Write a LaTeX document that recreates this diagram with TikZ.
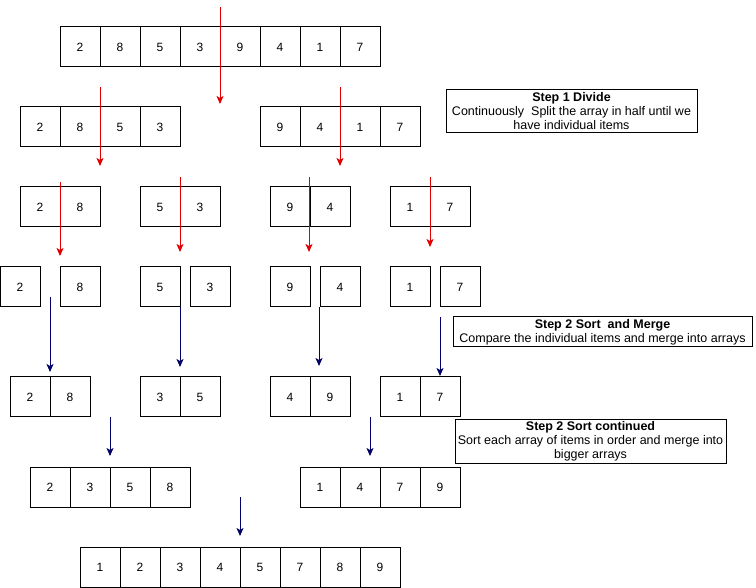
\documentclass[tikz,border=0pt]{standalone}
\usepackage{fontspec}
\setmainfont{Liberation Sans}
\usetikzlibrary{arrows.meta, positioning}

\definecolor{splitred}{RGB}{225,0,0}
\definecolor{mergenavy}{RGB}{0,0,102}

\begin{document}
\begin{tikzpicture}[
  x=1pt, y=-1pt,
  cell/.style={
    draw,
    line width=1pt,
    minimum size=40pt,
    inner sep=0pt,
    font=\fontsize{12}{14}\selectfont
  },
  note/.style={
    draw,
    line width=1pt,
    align=center,
    inner sep=0pt,
    font=\fontsize{12.5}{14}\selectfont
  },
  split/.style={-{Stealth[length=8pt, width=7pt, inset=2pt]}, line width=1pt, splitred},
  merge/.style={-{Stealth[length=8pt, width=7pt, inset=2pt]}, line width=1pt, mergenavy}
]
\useasboundingbox (0,0) rectangle (756,588);

% Row 0 - Full array
\foreach \v [count=\i] in {2,8,5,3,9,4,1,7}
  \node[cell] (full\i) at ({40+40*\i},47) {\v};

% Row 1 - Halves
\foreach \v [count=\i] in {2,8,5,3}
  \node[cell] (halfl\i) at ({40*\i},127) {\v};
\foreach \v [count=\i] in {9,4,1,7}
  \node[cell] (halfr\i) at ({240+40*\i},127) {\v};

% Row 2 - Quarters
\node[cell] (qa1) at (40,207) {2};
\node[cell] (qa2) at (80,207) {8};
\node[cell] (qb1) at (160,207) {5};
\node[cell] (qb2) at (200,207) {3};
\node[cell] (qc1) at (290,207) {9};
\node[cell] (qc2) at (330,207) {4};
\node[cell] (qd1) at (410,207) {1};
\node[cell] (qd2) at (450,207) {7};

% Row 3 - Individual items
\foreach \v/\x [count=\i] in {2/20,8/80,5/160,3/210,9/290,4/340,1/410,7/460}
  \node[cell] (one\i) at (\x,287) {\v};

% Row 4 - Sorted pairs
\node[cell] (pa1) at (30,397) {2};
\node[cell] (pa2) at (70,397) {8};
\node[cell] (pb1) at (160,397) {3};
\node[cell] (pb2) at (200,397) {5};
\node[cell] (pc1) at (290,397) {4};
\node[cell] (pc2) at (330,397) {9};
\node[cell] (pd1) at (400,397) {1};
\node[cell] (pd2) at (440,397) {7};

% Row 5 - Sorted halves
\foreach \v [count=\i] in {2,3,5,8}
  \node[cell] (sortl\i) at ({10+40*\i},487) {\v};
\foreach \v [count=\i] in {1,4,7,9}
  \node[cell] (sortr\i) at ({280+40*\i},487) {\v};

% Row 6 - Sorted array
\foreach \v [count=\i] in {1,2,3,4,5,7,8,9}
  \node[cell] (done\i) at ({60+40*\i},567) {\v};

% Notes
\node[note, minimum width=251pt, minimum height=43pt] (step1) at (571.5,111.5)
  {\textbf{Step 1 Divide}\\ Continuously~ Split the array in half until we\\ have individual items};
\node[note, minimum width=299pt, minimum height=30pt] (step2) at (602.5,332)
  {\textbf{Step 2 Sort~ and Merge}\\ Compare the individual items and merge into arrays};
\node[note, minimum width=271pt, minimum height=43pt] (step3) at (590.5,441.5)
  {\textbf{Step 2 Sort continued}\\ Sort each array of items in order and merge into\\ bigger arrays};

% Arrows - divide
\foreach \n/\x/\ya/\yb in {d0/220/7/104, d1/100/87/166, d2/340/87/166,
    d3/60/182/256, d4/180/177/252, d5/309/177/252, d6/430/177/247} {
  \coordinate (\n s) at (\x,\ya);
  \coordinate (\n e) at (\x,\yb);
  \draw[split] (\n s) -- (\n e);
}

% Arrows - merge
\foreach \n/\x/\ya/\yb in {m1/50/297/372, m2/180/307/367, m3/319/307/366,
    m4/440/317/376, m5/110/417/456, m6/370/417/456, m7/240/497/536} {
  \coordinate (\n s) at (\x,\ya);
  \coordinate (\n e) at (\x,\yb);
  \draw[merge] (\n s) -- (\n e);
}

\end{tikzpicture}
\end{document}
